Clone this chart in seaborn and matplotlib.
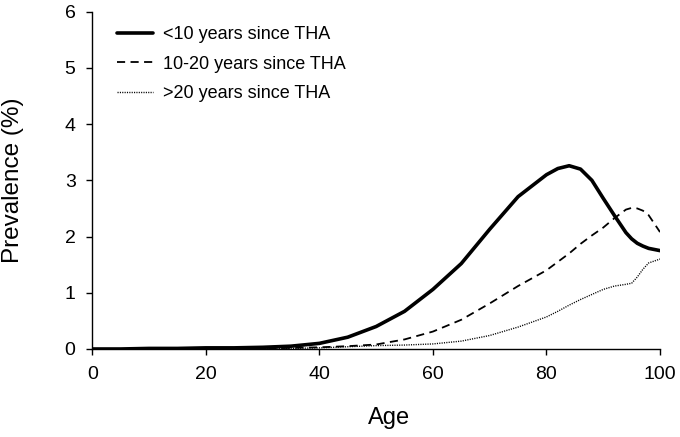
import numpy as np
import pandas as pd
import matplotlib
matplotlib.use("Agg")
import matplotlib.pyplot as plt
import seaborn as sns

# DATA
ages = [0, 5, 10, 15, 20, 25, 30, 35, 40, 45, 50, 55, 60, 65, 70, 75,
        80, 82, 84, 86, 88, 90, 92, 94, 95, 96, 97, 98, 100]

lt10 = [0.00, 0.00, 0.01, 0.01, 0.02, 0.02, 0.03, 0.05, 0.10, 0.21, 0.40, 0.67,
        1.06, 1.52, 2.13, 2.71, 3.10, 3.21, 3.26, 3.20, 3.00, 2.68, 2.37, 2.07,
        1.96, 1.88, 1.83, 1.79, 1.75]

y10_20 = [0.00, 0.00, 0.00, 0.00, 0.01, 0.01, 0.01, 0.02, 0.03, 0.05, 0.08, 0.17,
          0.31, 0.52, 0.81, 1.12, 1.40, 1.55, 1.70, 1.87, 2.02, 2.16, 2.33, 2.48,
          2.51, 2.50, 2.46, 2.38, 2.08]

gt20 = [0.00, 0.00, 0.00, 0.00, 0.01, 0.01, 0.01, 0.01, 0.02, 0.04, 0.06, 0.07,
        0.09, 0.14, 0.24, 0.39, 0.57, 0.67, 0.78, 0.88, 0.97, 1.06, 1.12, 1.15,
        1.17, 1.28, 1.42, 1.53, 1.60]

labels = ["<10 years since THA", "10-20 years since THA", ">20 years since THA"]

# long format for seaborn
df = pd.DataFrame({
    "Age": ages * 3,
    "Prevalence": lt10 + y10_20 + gt20,
    "group": [labels[0]] * len(ages) + [labels[1]] * len(ages) + [labels[2]] * len(ages),
})

sns.set_style("ticks")
plt.rcParams["font.family"] = ["Liberation Sans", "DejaVu Sans"]
plt.rcParams["text.color"] = "black"
plt.rcParams["axes.labelcolor"] = "black"

fig = plt.figure(figsize=(6.8, 4.37), dpi=100)
ax = fig.add_axes([0.1357, 0.2014, 0.8349, 0.7718])

styles = {
    labels[0]: dict(lw=2.6, ls="-"),
    labels[1]: dict(lw=1.3, ls=(0, (4.5, 3))),
    labels[2]: dict(lw=1.0, ls=(0, (0.8, 0.9))),
}

for g in labels:
    sub = df[df["group"] == g]
    sns.lineplot(data=sub, x="Age", y="Prevalence", ax=ax, color="black",
                 label=g, linewidth=styles[g]["lw"], linestyle=styles[g]["ls"])

ax.set_xlim(0, 100)
ax.set_ylim(0, 6)
ax.set_xticks(range(0, 101, 20))
ax.set_yticks(range(0, 7))
ax.tick_params(axis="both", direction="out", length=4, width=1, colors="black",
               labelsize=14, pad=8)

for side in ["top", "right"]:
    ax.spines[side].set_visible(False)
for side in ["left", "bottom"]:
    ax.spines[side].set_color("black")
    ax.spines[side].set_linewidth(1)

ax.set_xlabel("Age", fontsize=17, color="black")
ax.set_ylabel("Prevalence (%)", fontsize=17.5, color="black")
ax.xaxis.set_label_coords(0.523, -0.172)
ax.yaxis.set_label_coords(-0.12, 0.5)

leg = ax.legend(loc="upper left", bbox_to_anchor=(0.027, 0.983), frameon=False,
                fontsize=13, handlelength=2.0, handletextpad=0.55, borderpad=0,
                labelspacing=0.68)
for t in leg.get_texts():
    t.set_color("black")

fig.savefig("out.png", dpi=100)
